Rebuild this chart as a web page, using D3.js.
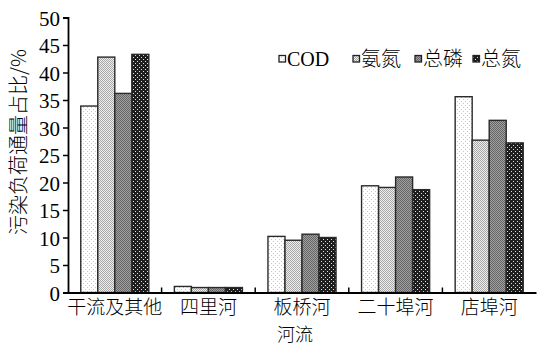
<!DOCTYPE html>
<html><head><meta charset="utf-8">
<script src="https://cdn.jsdelivr.net/npm/d3@7"></script>
<style>body{margin:0;background:#fff}svg{display:block}</style>
</head><body><svg id="c" width="537" height="347"></svg>
<script>
const categories = ["干流及其他","四里河","板桥河","二十埠河","店埠河"];
const seriesNames = ["COD","氨氮","总磷","总氮"];
const codValues = [33.9, 1.1, 10.2, 19.4, 35.6];
const nh3Values = [42.8, 0.9, 9.5, 19.1, 27.7];
const tpValues  = [36.2, 0.9, 10.6, 21.0, 31.3];
const tnValues  = [43.3, 0.9, 10.0, 18.7, 27.2];
const yTicks = [0,5,10,15,20,25,30,35,40,45,50];
const yTitle = "污染负荷通量占比/%";
const xTitle = "河流";

const series = [codValues, nh3Values, tpValues, tnValues];
const svg = d3.select("#c");
const m = {l:68, r:536, t:17.5, b:292.5};
const x = d3.scaleBand().domain(categories).range([m.l, m.r]).paddingInner(0).paddingOuter(0);
const xi = d3.scaleBand().domain(seriesNames).range([0, x.bandwidth()]).paddingOuter(0.75).paddingInner(0);
const y = d3.scaleLinear().domain([0,50]).range([m.b, m.t]);

// patterns
const defs = svg.append("defs");
function pat(id, bg, dot, size, cells){
  const p = defs.append("pattern").attr("id", id).attr("patternUnits","userSpaceOnUse").attr("width", size).attr("height", size);
  p.append("rect").attr("width", size).attr("height", size).attr("fill", bg);
  cells.forEach(([a,b])=>p.append("rect").attr("x",a).attr("y",b).attr("width",1).attr("height",1).attr("fill",dot));
}
pat("p0", "#ffffff", "#c8c8c8", 4, [[1,1],[3,3]]);
pat("p1", "#eeeeee", "#a8a8a8", 2, [[0,0],[1,1]]);
pat("p2", "#a0a0a0", "#666666", 2, [[0,0],[1,1]]);
pat("p3", "#1e1e1e", "#e0e0e0", 4, [[1,1],[3,3]]);
const fills = ["url(#p0)","url(#p1)","url(#p2)","url(#p3)"];

// bars
const g = svg.append("g");
seriesNames.forEach((s, si) => {
  g.selectAll(".b"+si).data(categories).enter().append("rect")
    .attr("x", c => x(c) + xi(s))
    .attr("y", (c, i) => y(series[si][i]))
    .attr("width", xi.bandwidth())
    .attr("height", (c, i) => y(0) - y(series[si][i]))
    .attr("fill", fills[si]).attr("stroke", "#2a2a2a").attr("stroke-width", 1.4);
});

// y axis
const ya = svg.append("g").attr("transform", `translate(${m.l},0)`)
  .call(d3.axisLeft(y).tickValues(yTicks).tickSize(5).tickPadding(3));
ya.select(".domain").attr("stroke","#000").attr("stroke-width",1.8);
ya.selectAll(".tick line").attr("stroke","#000").attr("stroke-width",1.5);
ya.selectAll("text").attr("font-family","'Liberation Serif', serif").attr("font-size",21).attr("fill","#000").attr("dy","0.36em");

// x axis
const xa = svg.append("g").attr("transform", `translate(0,${m.b})`)
  .call(d3.axisBottom(x).tickSize(0).tickPadding(8));
xa.select(".domain").attr("stroke","#000").attr("stroke-width",1.8);
xa.selectAll("text").attr("font-family","'Noto Sans CJK SC', sans-serif").attr("font-size",19).attr("font-weight",300).attr("fill","#000");
// boundary ticks (inward)
svg.append("g").selectAll("line").data(categories.slice(1)).enter().append("line")
  .attr("x1", c => x(c)).attr("x2", c => x(c)).attr("y1", m.b).attr("y2", m.b-5)
  .attr("stroke","#000").attr("stroke-width",1.5);

// titles
svg.append("text").attr("x", 295).attr("y", 341).attr("text-anchor","middle")
  .attr("font-family","'Noto Sans CJK SC', sans-serif").attr("font-size",18).attr("font-weight",300).text(xTitle);
svg.append("text").attr("transform","translate(26,142) rotate(-90)").attr("text-anchor","middle")
  .attr("font-family","'Noto Sans CJK SC', sans-serif").attr("font-size",20).attr("font-weight",300).attr("fill","#000").text(yTitle);

// legend
const legX = [279, 353, 415, 473];
const leg = svg.append("g");
seriesNames.forEach((s, i) => {
  leg.append("rect").attr("x", legX[i]).attr("y", 55.5).attr("width", 6.5).attr("height", 6.5)
    .attr("fill", fills[i]).attr("stroke","#222").attr("stroke-width",1.3);
  leg.append("text").attr("x", legX[i]+8).attr("y", 66)
    .attr("font-family", i===0 ? "'Liberation Serif', serif" : "'Noto Sans CJK SC', sans-serif")
    .attr("font-weight", i===0 ? 400 : 300)
    .attr("font-size", 20).text(s);
});
</script></body></html>
